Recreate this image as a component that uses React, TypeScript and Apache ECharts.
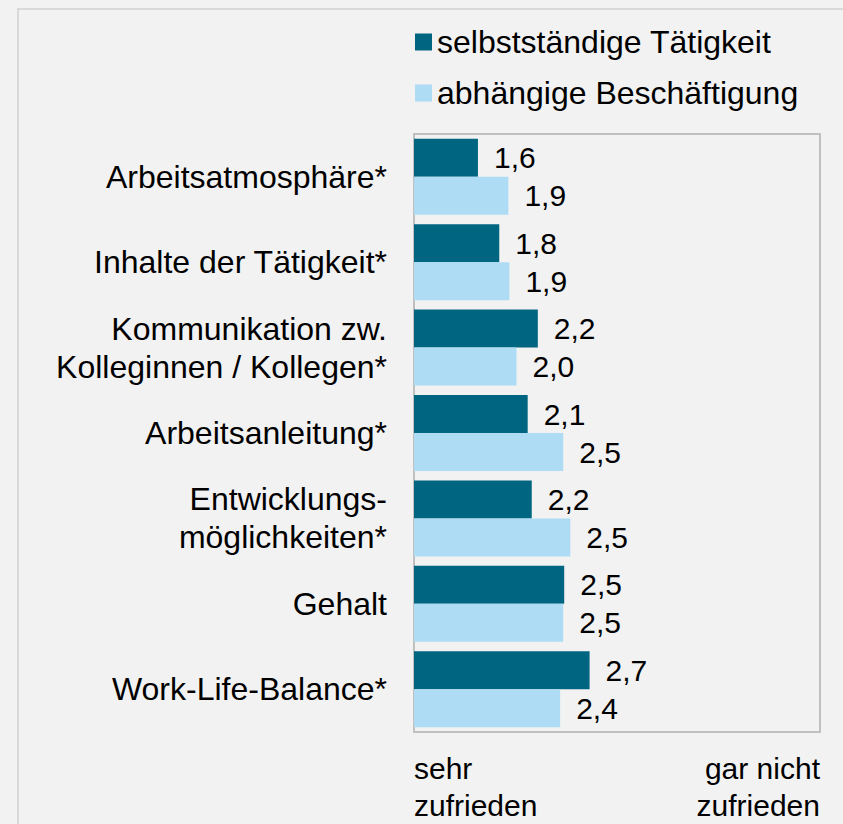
import React, { useEffect, useRef } from "react";
import * as echarts from "echarts";

const categories = [
  "Arbeitsatmosphäre*",
  "Inhalte der Tätigkeit*",
  "Kommunikation zw.\nKolleginnen / Kollegen*",
  "Arbeitsanleitung*",
  "Entwicklungs-\nmöglichkeiten*",
  "Gehalt",
  "Work-Life-Balance*",
];
const seriesNames = ["selbstständige Tätigkeit", "abhängige Beschäftigung"];
const selbststaendig = [1.63, 1.84, 2.22, 2.12, 2.16, 2.48, 2.73];
const abhaengig = [1.93, 1.94, 2.01, 2.47, 2.54, 2.47, 2.44];
const scaleMinLabel = "sehr\nzufrieden";
const scaleMaxLabel = "gar nicht\nzufrieden";

const FONT = "'Liberation Sans', Arial, sans-serif";

export default function App() {
  const ref = useRef<HTMLDivElement>(null);
  useEffect(() => {
    if (!ref.current) return;
    const chart = echarts.init(ref.current, null, { renderer: "svg" });
    const fmt = (p: any) => Number(p.value).toFixed(1).replace(".", ",");
    chart.setOption({
      animation: false,
      backgroundColor: "#f2f2f2",
      textStyle: { fontFamily: FONT },
      graphic: [
        {
          type: "rect",
          shape: { x: 18, y: 9, width: 1000, height: 1000 },
          style: { fill: "none", stroke: "#d9d9d9", lineWidth: 2 },
          silent: true,
        },
      ],
      legend: {
        data: seriesNames,
        orient: "vertical",
        left: 415,
        top: 25,
        padding: 0,
        icon: "rect",
        itemWidth: 17,
        itemHeight: 17,
        itemGap: 17,
        textStyle: { fontSize: 32, color: "#000", fontFamily: FONT, lineHeight: 34 },
      },
      grid: {
        left: 414,
        right: 23,
        top: 134,
        bottom: 92,
        show: true,
        borderColor: "#c0c0c0",
        borderWidth: 2,
        backgroundColor: "transparent",
        containLabel: false,
      },
      xAxis: {
        type: "value",
        min: 1,
        max: 5,
        interval: 4,
        splitLine: { show: false },
        axisLine: { show: false },
        axisTick: { show: false },
        axisLabel: {
          fontSize: 30,
          color: "#000",
          fontFamily: FONT,
          lineHeight: 37,
          margin: 18,
          alignMinLabel: "left",
          alignMaxLabel: "right",
          formatter: (v: number) => (v === 1 ? scaleMinLabel : v === 5 ? scaleMaxLabel : ""),
        },
      },
      yAxis: {
        type: "category",
        inverse: true,
        data: categories,
        axisLine: { show: false },
        axisTick: { show: false },
        axisLabel: {
          fontSize: 32,
          color: "#000",
          fontFamily: FONT,
          lineHeight: 38,
          margin: 27,
          align: "right",
        },
      },
      series: [
        {
          name: seriesNames[0],
          type: "bar",
          data: selbststaendig,
          barWidth: 38,
          barGap: "0%",
          itemStyle: { color: "#006580" },
          label: { show: true, position: "right", distance: 16, fontSize: 30, color: "#000", fontFamily: FONT, formatter: fmt },
        },
        {
          name: seriesNames[1],
          type: "bar",
          data: abhaengig,
          barWidth: 38,
          barGap: "0%",
          itemStyle: { color: "#aedcf5" },
          label: { show: true, position: "right", distance: 16, fontSize: 30, color: "#000", fontFamily: FONT, formatter: fmt },
        },
      ],
    });
    return () => chart.dispose();
  }, []);
  return (
    <div
      ref={ref}
      style={{ position: "absolute", left: 0, top: 0, width: 843, height: 824, background: "#f2f2f2" }}
    />
  );
}
